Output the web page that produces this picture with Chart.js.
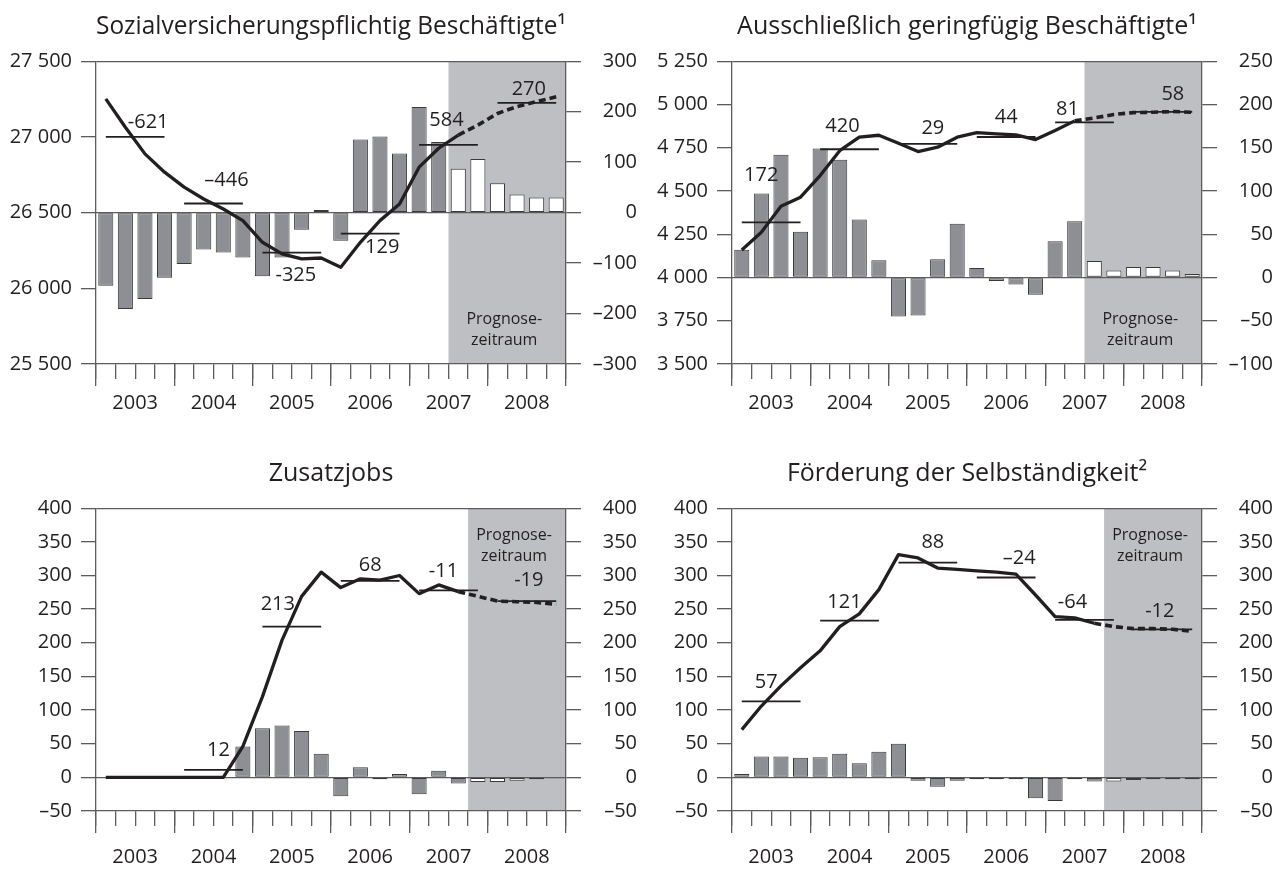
<!DOCTYPE html>
<html lang="de">
<head>
<meta charset="utf-8">
<title>Beschäftigung und Förderung 2003–2008</title>
<script src="https://cdn.jsdelivr.net/npm/chart.js@4.4.1/dist/chart.umd.min.js"></script>
<style>
  html, body { margin: 0; padding: 0; background: #fff; overflow: hidden; }
  canvas { position: absolute; }
</style>
</head>
<body>
<canvas id="svb" width="637" height="435" style="left:0;top:0"></canvas>
<canvas id="gb" width="637" height="435" style="left:636px;top:0"></canvas>
<canvas id="zj" width="637" height="424" style="left:0;top:447px"></canvas>
<canvas id="fs" width="637" height="424" style="left:636px;top:447px"></canvas>
<script>
// Categories
const years = ['2003', '2004', '2005', '2006', '2007', '2008'];
const quarters = years.flatMap(y => ['I', 'II', 'III', 'IV'].map(q => q + '/' + y));

// Sozialversicherungspflichtig Beschäftigte (Bestand, Tsd.) and quarterly change
const svbLevel = [27251, 27064, 26888, 26767, 26668, 26590, 26524, 26447, 26304, 26227, 26194, 26200,
  26139, 26304, 26447, 26557, 26800, 26925, 27012, 27078, 27155, 27200, 27233, 27265];
const svbChange = [-145, -191, -171, -129, -102, -73, -79, -89, -126, -89, -34, 5,
  -56, 145, 151, 117, 209, 140, 87, 106, 58, 36, 30, 30];
const svbAnnual = [27000, 26560, 26236, 26361, 26947, 27225];
const svbAnnualText = ['-621', '\u2013446', '-325', '129', '584', '270'];

// Ausschließlich geringfügig Beschäftigte
const gbLevel = [4159, 4261, 4412, 4464, 4589, 4733, 4811, 4822, 4776, 4728, 4753, 4811,
  4837, 4830, 4824, 4797, 4849, 4905, 4922, 4942, 4953, 4955, 4959, 4955];
const gbChange = [32, 97, 142, 53, 149, 136, 67, 20, -45, -44, 21, 62,
  11, -4, -8, -20, 42, 65, 19, 8, 12, 12, 8, 4];
const gbAnnual = [4319, 4741, 4772, 4812, 4897, 4957];
const gbAnnualText = ['172', '420', '29', '44', '81', '58'];

// Zusatzjobs
const zjLevel = [0, 0, 0, 0, 0, 0, 0, 46, 120, 204, 269, 305,
  282, 295, 293, 300, 273, 286, 276, 269, 262, 261, 260, 257];
const zjChange = [null, null, null, null, null, null, null, 46, 73, 77, 69, 35,
  -28, 15, -3, 5, -25, 10, -9, -7, -7, -5, -3, -1.5];
const zjAnnual = [null, 11, 224, 292, 278, 262];
const zjAnnualText = [null, '12', '213', '68', '-11', '-19'];

// Förderung der Selbständigkeit
const fsLevel = [71, 106, 136, 163, 188, 224, 243, 279, 331, 326, 311, 309,
  307, 305, 302, 271, 239, 237, 229, 224, 221, 221, 220, 217];
const fsChange = [5, 31, 31, 29, 30, 35, 21, 38, 50, -5, -14, -5,
  -3, -3, -3, -31, -35, -3, -6, -6, -4, -3, -3, -3];
const fsAnnual = [113, 233, 319, 297, 234, 220];
const fsAnnualText = ['57', '121', '88', '\u201324', '-64', '-12'];

const INK = '#231f20';
const AXIS = '#5c5c5c';
const BAR = '#8e8f94';
const SHADE = '#bebfc3';
const FONT = "'Open Sans', 'DejaVu Sans', sans-serif";

Chart.defaults.font.family = FONT;
Chart.defaults.color = INK;

function fmtTick(v) {
  const s = Math.abs(v).toString().replace(/\B(?=(\d{3})+(?!\d))/g, ' ');
  return (v < 0 ? '\u2013' : '') + s;
}

// shaded forecast period, annual labels and the "Prognosezeitraum" note
const panelExtras = {
  id: 'panelExtras',
  beforeDraw(chart, args, opts) {
    const { ctx, chartArea: a, scales: { x } } = chart;
    const x0 = x.getPixelForValue(opts.forecastFrom - 0.5);
    ctx.save();
    ctx.fillStyle = SHADE;
    ctx.fillRect(x0, a.top, a.right - x0, a.bottom - a.top);
    ctx.restore();
  },
  afterDatasetsDraw(chart, args, opts) {
    const { ctx, chartArea: a, scales: { x, y } } = chart;
    ctx.save();
    ctx.fillStyle = INK;
    ctx.textAlign = 'center';
    ctx.textBaseline = 'middle';
    ctx.font = '20px ' + FONT;
    opts.annualText.forEach((t, k) => {
      if (t === null) return;
      const [dx, dy] = opts.textOffset[k];
      ctx.fillText(t, x.getPixelForValue(4 * k + 1.5) + dx, y.getPixelForValue(opts.annual[k]) + dy);
    });

    const x0 = x.getPixelForValue(opts.forecastFrom - 0.5);
    const cx = (x0 + a.right) / 2 - 3;
    const ty = opts.noteAtTop ? a.top + 27 : a.bottom - 45;
    ctx.font = '16px ' + FONT;
    ctx.fillText('Prognose-', cx, ty);
    ctx.fillText('zeitraum', cx, ty + 21);
    ctx.restore();
  }
};

function drawPanel(id, p) {
  const annualLine = quarters.map((_, i) => p.annual[Math.floor(i / 4)]);
  const tickFont = { size: 20 };

  new Chart(document.getElementById(id), {
    type: 'bar',
    data: {
      labels: quarters,
      datasets: [
        {
          type: 'line',
          data: p.level,
          yAxisID: 'y',
          order: 0,
          borderColor: INK,
          borderWidth: 3.3,
          borderJoinStyle: 'round',
          pointRadius: 0,
          tension: 0,
          segment: {
            borderDash: c => c.p0DataIndex >= p.dashFrom ? [7, 4] : undefined,
            borderWidth: c => c.p0DataIndex >= p.dashFrom ? 3.6 : undefined
          }
        },
        {
          type: 'line',
          data: annualLine,
          yAxisID: 'y',
          order: 1,
          borderColor: INK,
          borderWidth: 1.8,
          pointRadius: 0,
          segment: {
            borderColor: c => c.p0DataIndex % 4 === 3 ? 'transparent' : undefined
          }
        },
        {
          type: 'bar',
          data: p.change,
          yAxisID: 'y1',
          order: 2,
          backgroundColor: p.change.map((_, i) => i < p.forecastFrom ? BAR : '#ffffff'),
          borderColor: '#3a3a3a',
          borderWidth: 1,
          borderSkipped: false,
          barPercentage: 0.77,
          categoryPercentage: 1
        }
      ]
    },
    options: {
      responsive: false,
      animation: false,
      devicePixelRatio: 1,
      events: [],
      layout: { padding: 0 },
      plugins: {
        legend: { display: false },
        tooltip: { enabled: false },
        title: {
          display: true,
          text: p.title,
          fullSize: false,
          color: INK,
          font: { size: 25, weight: 'normal', lineHeight: 1.2 },
          padding: { top: 12, bottom: 19.2 }
        },
        panelExtras: {
          forecastFrom: p.forecastFrom,
          annual: p.annual,
          annualText: p.annualText,
          textOffset: p.textOffset,
          noteAtTop: p.noteAtTop
        }
      },
      scales: {
        x: {
          type: 'category',
          offset: true,
          grid: { offset: true, drawOnChartArea: false, tickLength: 15, color: AXIS, lineWidth: 1.3 },
          border: { color: AXIS, width: 1.3 },
          ticks: { display: false },
          afterFit: s => { s.height = 0; }
        },
        yr: {
          type: 'category',
          display: true,
          labels: years,
          position: 'bottom',
          offset: true,
          grid: { offset: true, drawOnChartArea: false, tickLength: 22, color: AXIS, lineWidth: 1.3 },
          border: { display: false },
          ticks: { color: INK, font: tickFont, padding: p.yearPad, maxRotation: 0, autoSkip: false },
          afterFit: s => { s.height = p.axisHeight; }
        },
        y: {
          position: 'left',
          min: p.yMin,
          max: p.yMax,
          ticks: { stepSize: p.yStep, color: INK, font: tickFont, padding: 9, callback: fmtTick },
          grid: {
            color: c => c.tick && c.tick.value === p.yMax ? AXIS : 'transparent',
            tickColor: AXIS,
            tickLength: 15,
            lineWidth: 1.3
          },
          border: { color: AXIS, width: 1.3 },
          afterFit: s => { s.width = 96; }
        },
        y1: {
          position: 'right',
          min: p.y1Min,
          max: p.y1Max,
          ticks: { stepSize: p.y1Step, color: INK, font: tickFont, padding: p.rightPad, crossAlign: 'far', callback: fmtTick },
          grid: {
            color: c => c.tick && c.tick.value === 0 ? AXIS : 'transparent',
            tickColor: AXIS,
            tickLength: 15,
            lineWidth: 1.3
          },
          border: { color: AXIS, width: 1.3 },
          afterFit: s => { s.width = 71; }
        }
      }
    },
    plugins: [panelExtras]
  });
}

drawPanel('svb', {
  title: 'Sozialversicherungspflichtig Beschäftigte\u00b9',
  level: svbLevel, change: svbChange, annual: svbAnnual, annualText: svbAnnualText,
  textOffset: [[13, -15], [13, -23], [4, 23], [12, 14], [-2, -25], [2, -14]],
  yMin: 25500, yMax: 27500, yStep: 500, y1Min: -300, y1Max: 300, y1Step: 100,
  forecastFrom: 18, dashFrom: 18, noteAtTop: false, rightPad: 7, axisHeight: 71, yearPad: 5
});

drawPanel('gb', {
  title: 'Ausschließlich geringfügig Beschäftigte\u00b9',
  level: gbLevel, change: gbChange, annual: gbAnnual, annualText: gbAnnualText,
  textOffset: [[-10, -47], [-7, -23], [5, -16], [0, -20], [-17, -13], [10, -18]],
  yMin: 3500, yMax: 5250, yStep: 250, y1Min: -100, y1Max: 250, y1Step: 50,
  forecastFrom: 18, dashFrom: 17, noteAtTop: false, rightPad: 7, axisHeight: 71, yearPad: 5
});

drawPanel('zj', {
  title: 'Zusatzjobs',
  level: zjLevel, change: zjChange, annual: zjAnnual, annualText: zjAnnualText,
  textOffset: [[0, 0], [5, -20], [-14, -22], [0, -16], [-5, -19], [2, -21]],
  yMin: -50, yMax: 400, yStep: 50, y1Min: -50, y1Max: 400, y1Step: 50,
  forecastFrom: 19, dashFrom: 18, noteAtTop: true, rightPad: 17, axisHeight: 60, yearPad: 12
});

drawPanel('fs', {
  title: 'Förderung der Selbständigkeit\u00b2',
  level: fsLevel, change: fsChange, annual: fsAnnual, annualText: fsAnnualText,
  textOffset: [[-5, -19], [-5, -18], [5, -20], [13, -19], [-12, -18], [-3, -18]],
  yMin: -50, yMax: 400, yStep: 50, y1Min: -50, y1Max: 400, y1Step: 50,
  forecastFrom: 19, dashFrom: 18, noteAtTop: true, rightPad: 17, axisHeight: 60, yearPad: 12
});
</script>
</body>
</html>
